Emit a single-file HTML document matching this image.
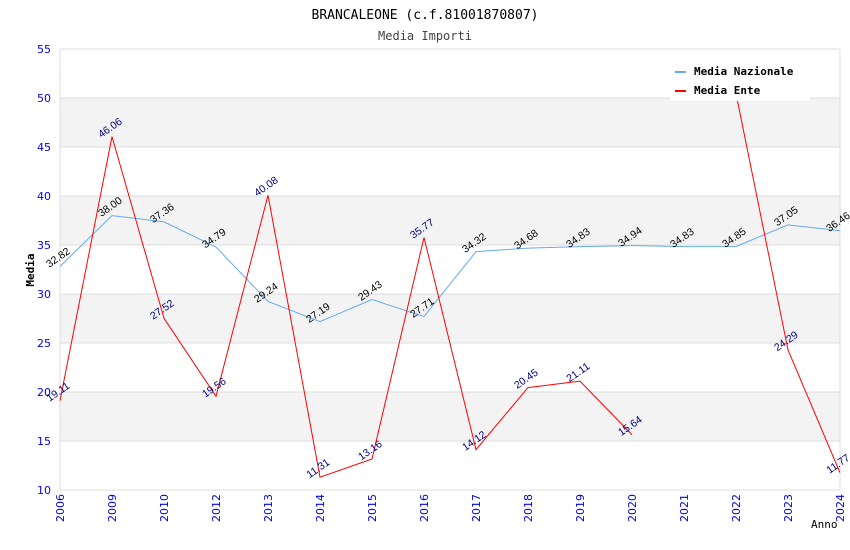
<!DOCTYPE html>
<html><head><meta charset="utf-8"><style>
body{margin:0;background:#fff}
svg{display:block}
text{font-family:"DejaVu Sans","Liberation Sans",sans-serif}
.mono{font-family:"DejaVu Sans Mono","Liberation Mono",monospace}
.val{font-family:"Liberation Sans",sans-serif}
</style></head><body>
<svg id="c" width="850" height="550">
<text x="425" y="19" text-anchor="middle" class="mono" font-size="13" fill="#000">BRANCALEONE (c.f.81001870807)</text>
<text x="425" y="40" text-anchor="middle" class="mono" font-size="12" fill="#444">Media Importi</text>
<text transform="translate(34,270) rotate(-90)" text-anchor="middle" class="mono" font-size="11" font-weight="bold">Media</text>
<text x="811" y="528" class="mono" font-size="11">Anno</text>
<g id="grid"></g><g id="lines"></g><g id="labels"></g>
<g>
<rect x="670" y="58" width="140" height="43" fill="#fff"/>
<line x1="675" y1="72" x2="686" y2="72" stroke="#66aaee" stroke-width="2"/>
<text x="694" y="75" class="mono" font-size="11" font-weight="bold">Media Nazionale</text>
<line x1="675" y1="91" x2="686" y2="91" stroke="#ff0000" stroke-width="2"/>
<text x="694" y="94" class="mono" font-size="11" font-weight="bold">Media Ente</text>
</g>
</svg>
<script>
const categories=["2006","2009","2010","2012","2013","2014","2015","2016","2017","2018","2019","2020","2021","2022","2023","2024"];
const nazionale=[32.82,38.00,37.36,34.79,29.24,27.19,29.43,27.71,34.32,34.68,34.83,34.94,34.83,34.85,37.05,36.46];
const ente=[19.11,46.06,27.52,19.56,40.08,11.31,13.16,35.77,14.12,20.45,21.11,15.64,null,50.45,24.29,11.77];
const yTicks=[10,15,20,25,30,35,40,45,50,55];
const X0=60,X1=840,Y0=490,Y1=49,YMIN=10,YMAX=55;
const NS="http://www.w3.org/2000/svg";
const xs=i=>X0+i*(X1-X0)/(categories.length-1);
const ys=v=>Y0-(v-YMIN)*(Y0-Y1)/(YMAX-YMIN);
function mk(t,a,p){const e=document.createElementNS(NS,t);for(const k in a)e.setAttribute(k,a[k]);p.appendChild(e);return e;}
const g=document.getElementById('grid'),L=document.getElementById('lines'),lb=document.getElementById('labels');
for(let i=0;i<yTicks.length-1;i++){
  if(i%2===1){const r=mk('rect',{x:X0,y:ys(yTicks[i+1]),width:X1-X0,height:ys(yTicks[i])-ys(yTicks[i+1]),fill:'#f3f3f3'},g);
  
  }
}
yTicks.forEach(v=>{
  const l=mk('line',{x1:X0,x2:X1,y1:ys(v),y2:ys(v),stroke:'#dddddd'},g);
  
  
  const t=mk('text',{x:X0-9,y:ys(v)+4,'text-anchor':'end','font-size':11,fill:'#0000ee'},g);t.textContent=v;
  
  
});
mk('line',{x1:X0,x2:X0,y1:Y1,y2:Y0,stroke:'#dddddd'},g);
mk('line',{x1:X1,x2:X1,y1:Y1,y2:Y0,stroke:'#dddddd'},g);
categories.forEach((c,i)=>{
  const t=mk('text',{transform:`translate(${xs(i)+4},${Y0+4}) rotate(-90)`,'text-anchor':'end','font-size':11,fill:'#0000ee'},g);t.textContent=c;
  
  
});
function series(arr,color,lc,name){
  let d='',pen=false;
  arr.forEach((v,i)=>{if(v==null){pen=false;return;}d+=(pen?'L':'M')+xs(i)+','+ys(v);pen=true;});
  const p=mk('path',{d:d,fill:'none',stroke:color,'stroke-width':1},L);
  
  
  arr.forEach((v,i)=>{if(v==null)return;
    const t=mk('text',{transform:`translate(${xs(i)},${ys(v)-6}) rotate(-35)`,'text-anchor':'middle','font-size':10.5,fill:lc,class:'val'},lb);
    t.textContent=v.toFixed(2);
    
    
  });
}
series(nazionale,'#66aaee','#000','nazionale');
series(ente,'#ff0000','#000080','ente');
</script>
</body></html>
